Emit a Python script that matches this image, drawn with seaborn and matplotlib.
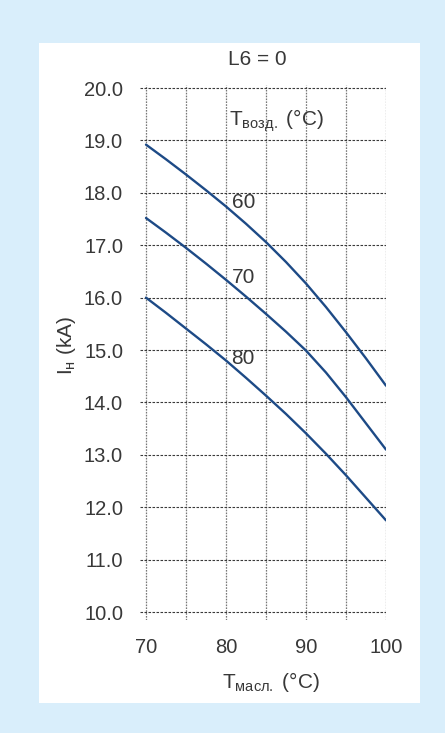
import pandas as pd
import matplotlib
matplotlib.use("Agg")
import matplotlib.pyplot as plt
import seaborn as sns
from matplotlib.patches import Rectangle

# Температура масла (°C) и ток (кА) для трёх значений температуры воздуха
t_oil = [70, 72.5, 75, 77.5, 80, 82.5, 85, 87.5, 90, 92.5, 95, 97.5, 100]
i_60 = [18.92, 18.64, 18.35, 18.05, 17.74, 17.41, 17.06, 16.68, 16.27, 15.82, 15.34, 14.84, 14.32]
i_70 = [17.52, 17.24, 16.95, 16.65, 16.34, 16.02, 15.69, 15.35, 14.99, 14.57, 14.10, 13.60, 13.10]
i_80 = [16.00, 15.71, 15.41, 15.11, 14.80, 14.47, 14.13, 13.78, 13.41, 13.02, 12.61, 12.18, 11.75]
t_air = ["60", "70", "80"]
x_ticks = [70, 80, 90, 100]
y_ticks = [10, 11, 12, 13, 14, 15, 16, 17, 18, 19, 20]

sns.set_style("white")
plt.rcParams['font.family'] = ['Liberation Sans', 'DejaVu Sans']
plt.rcParams['mathtext.fontset'] = 'custom'
plt.rcParams['mathtext.rm'] = 'Liberation Sans'
plt.rcParams['mathtext.it'] = 'Liberation Sans'

n = len(t_oil)
df = pd.DataFrame({
    't': t_oil * 3,
    'i': i_60 + i_70 + i_80,
    'air': [t_air[0]] * n + [t_air[1]] * n + [t_air[2]] * n,
})

text_col = '#383838'
line_col = '#1d4a86'

fig = plt.figure(figsize=(4.45, 7.33), dpi=100)
fig.patch.set_facecolor('#d9eefb')
fig.add_artist(Rectangle((39 / 445, 1 - 703 / 733), 381 / 445, 660 / 733,
                         transform=fig.transFigure, facecolor='white',
                         edgecolor='none', zorder=-10))

# область осей с небольшим запасом, чтобы сетка выходила за 70 и 10.0
ax = fig.add_axes([140.4 / 445, 1 - 619.9 / 733, 245.6 / 445, 535 / 733])
ax.set_facecolor('none')
ax.set_zorder(1)

sns.lineplot(data=df, x='t', y='i', hue='air', palette=[line_col] * 3,
             linewidth=1.7, legend=False, ax=ax, zorder=3)

ax.set_xlim(69.3, 100)
ax.set_ylim(9.85, 20.06)
ax.set_xticks(x_ticks)
ax.set_yticks(y_ticks)
ax.set_yticklabels([f"{v:.1f}" for v in y_ticks])

for x in [70, 75, 80, 85, 90, 95, 100]:
    ax.axvline(x, color='#777777', linestyle=(0, (1.3, 1.0)), linewidth=0.9, zorder=1)
for y in y_ticks:
    ax.axhline(y, color='#3a3a3a', linestyle=(0, (2.3, 1.3)), linewidth=0.8, zorder=1)

for s in ax.spines.values():
    s.set_visible(False)
ax.tick_params(axis='both', which='both', length=0, labelsize=14.5, colors=text_col)
ax.tick_params(axis='x', pad=13)
ax.tick_params(axis='y', pad=12.5)
ax.set_xlabel('')
ax.set_ylabel('')

fig.text(271 / 445, 1 - 688 / 733, r'$\mathregular{T_{масл.}}$ (°C)', fontsize=15,
         color=text_col, ha='center', va='baseline')
fig.text(67 / 445, 1 - 345 / 733, r'$\mathregular{I_{н}}$ (kA)', fontsize=15,
         color=text_col, ha='center', va='center', rotation=90)

ax.text(80.4, 19.29, r'$\mathregular{T_{возд.}}$ (°C)', fontsize=15, color=text_col,
        ha='left', va='baseline')
for lab, yv in zip(t_air, [17.71, 16.28, 14.73]):
    ax.text(80.7, yv, lab, fontsize=15, color=text_col, ha='left', va='baseline', zorder=4)

fig.text(257 / 445, 1 - 65 / 733, 'L6 = 0', fontsize=15, color=text_col,
         ha='center', va='baseline')

fig.savefig('out.png', dpi=100, facecolor=fig.get_facecolor())
plt.close()
